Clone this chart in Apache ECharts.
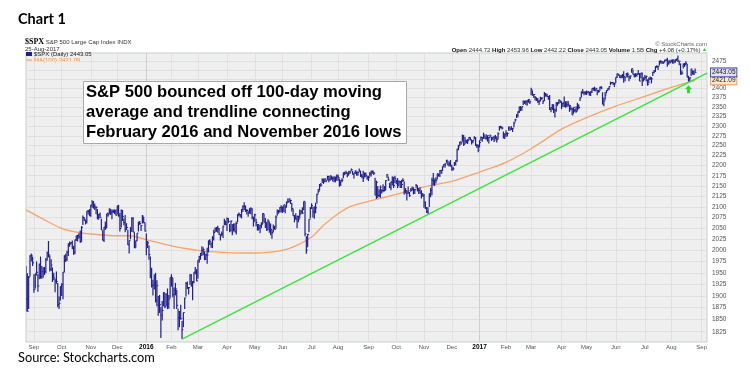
<!DOCTYPE html>
<html><head><meta charset="utf-8">
<script src="https://cdn.jsdelivr.net/npm/echarts@6/dist/echarts.min.js"></script>
<style>html,body{margin:0;padding:0;background:#fff}#c{width:750px;height:382px}</style>
</head><body><div id="c"></div>
<script>
// ---------- DATA ----------
// NYSE holidays in range (used to build the trading-day category axis)
const holidays = ['2015-09-07','2015-11-26','2015-12-25','2016-01-01','2016-01-18','2016-02-15','2016-03-25','2016-05-30','2016-07-04','2016-09-05','2016-11-24','2016-12-26','2017-01-02','2017-01-16','2017-02-20','2017-04-14','2017-05-29','2017-07-04','2017-09-04'];
const axisStart = '2015-08-24', axisEnd = '2017-09-08';

// Daily closes (Aug 24 2015 .. Dec 31 2015), one row per month
const close2015 = [
1893.2,1867.6,1940.5,1987.7,1988.9,1972.2,
1913.9,1948.9,1951.1,1921.2,1969.4,1942.0,1952.3,1961.1,1953.0,1978.1,1995.3,1990.2,1958.1,1967.0,1942.7,1938.8,1932.2,1931.3,1881.8,1884.1,1920.0,
1923.8,1951.4,1987.1,1979.9,1995.8,2013.4,2014.9,2017.5,2003.7,1994.2,2023.9,2033.1,2033.7,2030.8,2018.9,2052.5,2075.2,2071.2,2065.9,2090.4,2089.4,2079.4,
2104.1,2109.8,2102.3,2099.9,2099.2,2078.6,2081.7,2075.0,2046.0,2023.0,2053.2,2050.4,2083.6,2081.2,2089.2,2086.6,2089.1,2088.9,2090.1,2080.4,
2102.6,2079.5,2049.6,2091.7,2077.1,2063.6,2047.6,2052.2,2012.4,2021.9,2043.4,2073.1,2041.9,2005.6,2021.2,2039.0,2064.3,2061.0,2056.5,2078.4,2063.4,2043.9];
const high2015 = [
1965,1949,1943,1989,1993,1986,
1947,1948,1975,1947,1970,1986,1965,1961,1963,1983,1997,2021,1989,1980,1962,1950,1937,1953,1928,1899,1921,
1927,1952,1989,1992,1999,2016,2020,2019,2022,2010,2024,2033,2035,2039,2045,2055,2080,2076,2070,2090,2093,2095,
2105,2116,2114,2108,2101,2095,2084,2087,2072,2045,2053,2066,2084,2087,2097,2096,2094,2094,2094,2094,
2103,2105,2086,2094,2093,2073,2081,2062,2047,2022,2053,2076,2076,2041,2022,2039,2065,2067,2058,2081,2077,2063];
const low2015 = [
1867,1867,1872,1942,1975,1965,
1907,1916,1944,1909,1936,1937,1937,1939,1945,1949,1977,1984,1953,1954,1930,1934,1908,1926,1876,1872,1890,
1900,1893,1951,1974,1976,1987,2008,2013,2003,1990,1991,2021,2020,2026,2017,2019,2058,2067,2059,2061,2082,2079,
2077,2098,2096,2093,2083,2071,2070,2074,2046,2022,2019,2046,2051,2077,2083,2081,2071,2086,2083,2080,
2082,2077,2043,2052,2067,2057,2041,2046,2012,1993,2025,2043,2041,2005,2006,2021,2043,2058,2044,2061,2062,2043];

const close2016 = [
2012.7,2016.7,1990.3,1943.1,1922.0,1923.7,1938.7,1890.3,1921.8,1880.3,1881.3,1859.3,1869.0,1906.9,1877.1,1903.6,1883.0,1893.4,1940.2,
1939.4,1903.0,1912.5,1915.4,1880.1,1853.4,1852.2,1851.9,1829.1,1864.8,1895.6,1926.8,1917.8,1917.8,1945.5,1921.3,1929.8,1951.7,1948.1,1932.2,
1978.4,1986.4,1993.4,2000.0,2001.8,1979.3,1989.3,1989.6,2022.2,2019.6,2015.9,2027.2,2040.6,2049.6,2051.6,2049.8,2036.7,2035.9,2037.1,2055.0,2064.0,2059.7,
2072.8,2066.1,2045.2,2066.7,2041.9,2047.6,2042.0,2061.7,2082.4,2082.8,2080.7,2094.3,2100.8,2102.4,2091.5,2091.6,2087.8,2091.7,2095.2,2075.8,2065.3,
2081.4,2063.4,2051.1,2050.6,2057.1,2058.7,2084.4,2064.5,2064.1,2046.6,2066.7,2047.2,2047.6,2040.0,2052.3,2048.0,2076.1,2090.5,2090.1,2099.1,2097.0,
2099.3,2105.3,2099.1,2109.4,2112.1,2119.1,2115.5,2096.1,2079.1,2075.3,2071.5,2078.0,2071.2,2083.3,2088.9,2085.5,2113.3,2037.4,2000.5,2036.1,2070.8,2098.9,
2103.0,2088.6,2099.7,2097.9,2129.9,2137.2,2152.1,2152.4,2163.8,2161.7,2166.9,2163.8,2173.0,2165.2,2175.0,2168.5,2169.2,2166.6,2170.1,2173.6,
2170.8,2157.0,2163.8,2164.3,2182.9,2180.9,2181.7,2175.5,2185.8,2184.1,2190.2,2178.2,2182.2,2187.0,2183.9,2182.6,2186.9,2175.4,2172.5,2169.0,2180.4,2176.1,2171.0,
2170.9,2180.0,2186.5,2186.2,2181.3,2128.0,2159.0,2127.0,2125.8,2147.3,2139.2,2139.1,2139.8,2163.1,2177.2,2164.7,2146.1,2159.9,2171.4,2151.1,2168.3,
2161.2,2150.5,2159.7,2160.8,2153.7,2163.7,2136.7,2139.2,2132.6,2133.0,2126.5,2139.6,2144.3,2141.3,2141.2,2151.3,2143.2,2139.4,2133.0,2126.4,2126.2,
2111.7,2097.9,2088.7,2085.2,2131.5,2139.6,2163.3,2167.5,2164.5,2164.2,2180.4,2176.9,2187.1,2181.9,2198.2,2202.9,2204.7,2213.4,2201.7,2204.7,2198.8,
2191.1,2192.0,2204.7,2212.2,2241.4,2246.2,2259.5,2257.0,2271.7,2253.3,2262.0,2258.1,2262.5,2270.8,2265.2,2261.0,2263.8,2268.9,2249.9,2249.3,2238.8];
const high2016 = [
2038,2021,2011,1986,1961,1935,1947,1950,1934,1900,1902,1876,1889,1908,1906,1905,1916,1902,1940,
1947,1939,1918,1928,1913,1873,1868,1881,1847,1865,1896,1930,1931,1919,1947,1947,1932,1951,1963,1958,
1978,1987,1994,2009,2007,1998,1992,2006,2022,2025,2017,2032,2047,2052,2053,2056,2051,2036,2043,2056,2072,2068,
2075,2074,2060,2068,2060,2061,2062,2066,2083,2087,2083,2095,2104,2111,2103,2095,2089,2097,2099,2097,2077,
2084,2072,2060,2060,2058,2064,2085,2084,2074,2064,2071,2066,2061,2046,2059,2056,2080,2094,2093,2100,2104,
2101,2105,2104,2113,2120,2120,2117,2110,2096,2081,2085,2079,2079,2094,2093,2099,2113,2113,2032,2037,2071,2099,
2109,2100,2101,2110,2132,2143,2155,2157,2169,2168,2169,2164,2175,2175,2175,2174,2173,2174,2173,2178,
2178,2168,2164,2169,2183,2185,2187,2183,2186,2186,2193,2187,2182,2188,2185,2185,2193,2187,2179,2187,2183,2183,2175,
2175,2184,2187,2187,2185,2170,2163,2150,2142,2151,2142,2154,2150,2164,2179,2173,2158,2161,2173,2172,2175,
2165,2169,2164,2162,2165,2169,2161,2145,2138,2149,2136,2145,2149,2147,2142,2155,2151,2145,2147,2140,2133,
2131,2112,2100,2099,2132,2146,2170,2182,2166,2171,2180,2179,2189,2190,2198,2204,2205,2214,2212,2210,2214,
2202,2197,2209,2213,2242,2252,2260,2260,2278,2277,2272,2265,2267,2272,2271,2264,2264,2274,2272,2254,2253];
const low2016 = [
1989,2005,1979,1938,1918,1901,1914,1886,1878,1858,1864,1812,1848,1878,1874,1878,1872,1873,1895,
1920,1897,1872,1901,1872,1828,1834,1850,1810,1834,1872,1899,1915,1903,1924,1920,1891,1927,1947,1932,
1937,1972,1979,1987,1989,1978,1979,1970,1995,2012,2006,2005,2022,2041,2042,2040,2035,2022,2032,2028,2058,2057,
2044,2062,2041,2043,2034,2044,2041,2036,2064,2078,2075,2073,2088,2093,2088,2082,2077,2084,2083,2071,2054,
2067,2055,2045,2045,2039,2050,2060,2064,2051,2044,2047,2040,2034,2026,2041,2047,2049,2079,2084,2087,2087,
2086,2088,2085,2099,2110,2111,2107,2089,2079,2064,2070,2050,2064,2073,2083,2084,2092,2032,1992,2007,2041,2073,
2095,2075,2072,2085,2108,2132,2139,2148,2157,2155,2159,2159,2165,2159,2163,2165,2161,2159,2159,2163,
2163,2148,2150,2159,2169,2176,2179,2171,2177,2179,2186,2178,2168,2179,2175,2175,2184,2172,2169,2160,2171,2171,2165,
2162,2173,2173,2180,2177,2128,2119,2121,2124,2122,2132,2135,2137,2140,2170,2163,2145,2140,2151,2145,2157,
2154,2145,2151,2145,2145,2160,2129,2132,2115,2132,2124,2136,2139,2130,2131,2146,2137,2131,2132,2120,2125,
2098,2095,2086,2084,2100,2123,2128,2152,2150,2156,2166,2173,2172,2180,2186,2195,2195,2207,2200,2198,2198,
2187,2188,2199,2200,2209,2238,2249,2252,2260,2249,2254,2256,2254,2264,2263,2253,2256,2266,2249,2244,2233];

const close2017 = [
2257.8,2270.8,2269.0,2277.0,2268.9,2268.9,2275.3,2270.4,2274.6,2267.9,2271.9,2263.7,2271.3,2265.2,2280.1,2298.4,2296.7,2294.7,2280.9,2278.9,
2279.6,2280.9,2297.4,2292.6,2293.1,2294.7,2307.9,2316.1,2328.3,2337.6,2349.3,2347.2,2351.2,2365.4,2362.8,2363.8,2367.3,2369.8,2363.6,
2396.0,2381.9,2383.1,2375.3,2368.4,2363.0,2364.9,2372.6,2373.5,2365.5,2385.3,2381.4,2378.3,2373.5,2344.0,2348.5,2346.0,2344.0,2341.6,2358.6,2361.1,2368.1,2362.7,
2358.8,2360.2,2353.0,2357.5,2355.5,2357.2,2353.8,2344.9,2329.0,2349.0,2342.2,2338.2,2355.8,2348.7,2374.2,2388.6,2387.5,2388.8,2384.2,
2388.3,2391.2,2388.1,2389.5,2399.3,2399.4,2396.9,2399.6,2394.4,2390.9,2402.3,2400.7,2357.0,2365.7,2381.7,2394.0,2398.4,2404.4,2415.1,2415.8,2412.9,2411.8,
2430.1,2439.1,2436.1,2429.3,2433.1,2433.8,2431.8,2429.4,2440.4,2437.9,2432.5,2433.2,2453.5,2437.0,2435.6,2434.5,2438.3,2439.1,2419.4,2440.7,2419.7,2423.4,
2429.0,2432.5,2409.8,2425.2,2427.4,2425.5,2443.3,2447.8,2459.3,2459.1,2460.6,2473.8,2473.5,2472.5,2469.9,2477.1,2477.8,2475.4,2472.1,2470.3,
2476.4,2477.6,2472.2,2476.8,2480.9,2474.9,2474.0,2438.2,2441.3,2465.8,2464.6,2468.1,2430.0,2425.6,2428.4,2452.5,2444.0,2439.0,2443.05];
const high2017 = [
2264,2273,2271,2283,2276,2279,2276,2272,2278,2272,2272,2275,2277,2273,2284,2300,2301,2299,2286,2279,
2289,2284,2299,2296,2300,2295,2311,2319,2331,2338,2351,2352,2351,2367,2366,2368,2368,2371,2368,
2401,2394,2384,2379,2375,2374,2369,2377,2376,2368,2390,2387,2385,2379,2382,2349,2358,2357,2344,2363,2363,2370,2368,
2365,2361,2378,2365,2365,2366,2355,2352,2348,2349,2345,2352,2361,2356,2376,2392,2398,2392,2392,
2394,2392,2390,2392,2399,2402,2404,2400,2396,2395,2404,2406,2389,2375,2390,2395,2400,2405,2418,2416,2416,2415,
2430,2440,2439,2436,2436,2439,2446,2430,2441,2443,2434,2434,2453,2451,2440,2441,2441,2450,2441,2442,2443,2430,
2436,2434,2424,2429,2432,2430,2445,2449,2460,2463,2461,2475,2477,2473,2473,2478,2479,2484,2473,2478,
2478,2479,2477,2480,2481,2490,2474,2468,2448,2468,2469,2474,2466,2434,2430,2453,2449,2448,2454];
const low2017 = [
2245,2262,2260,2267,2268,2265,2260,2255,2271,2262,2264,2259,2266,2258,2266,2288,2294,2291,2268,2267,
2272,2273,2288,2288,2290,2285,2297,2311,2321,2322,2334,2339,2340,2355,2358,2355,2353,2361,2358,
2381,2380,2374,2367,2366,2361,2355,2365,2369,2358,2366,2377,2377,2369,2342,2336,2342,2334,2322,2337,2353,2358,2361,
2344,2350,2350,2348,2349,2351,2337,2341,2329,2332,2336,2335,2340,2344,2366,2376,2386,2381,2383,
2382,2386,2380,2379,2387,2393,2392,2392,2381,2388,2393,2397,2357,2352,2369,2386,2393,2396,2408,2412,2409,2403,
2414,2428,2434,2428,2427,2427,2415,2419,2431,2429,2419,2425,2442,2437,2429,2430,2432,2437,2419,2427,2406,2419,
2425,2419,2407,2413,2422,2413,2433,2441,2444,2455,2450,2463,2468,2466,2467,2471,2474,2459,2464,2468,
2472,2467,2468,2470,2475,2472,2463,2437,2437,2454,2458,2463,2430,2418,2417,2433,2437,2436,2442];

// 100-day moving average
const maDates = ['2015-08-24','2015-09-15','2015-10-01','2015-10-15','2015-11-02','2015-12-01','2015-12-15','2016-01-04','2016-02-01','2016-03-01','2016-04-01','2016-05-02','2016-06-01','2016-06-15','2016-07-01','2016-07-15','2016-08-01','2016-08-15','2016-09-01','2016-10-03','2016-11-01','2016-12-01','2017-01-03','2017-02-01','2017-03-01','2017-04-03','2017-05-01','2017-06-01','2017-07-03','2017-08-01','2017-08-25'];
const maValues = [2093,2068,2050,2042,2037,2033,2033,2024,2010,2000,1995,1994,2000,2010,2030,2057,2084,2102,2113,2130,2148,2161,2184,2208,2242,2292,2322,2352,2378,2402,2421.09];

// Trendline connecting Feb 2016 and Nov 2016 lows (extended)
const trendDates = ['2016-02-11','2017-09-08'];
const trendValues = [1810, 2441];

// Price-axis tick labels
const yTicks = [1825,1850,1875,1900,1925,1950,1975,2000,2025,2050,2075,2100,2125,2150,2175,2200,2225,2250,2275,2300,2325,2350,2375,2400,2425,2450,2475];
const yHiddenLabels = [2425,2450];
const yearLines = ['2016-01-04','2017-01-03'];
const monthNames = ['Jan','Feb','Mar','Apr','May','Jun','Jul','Aug','Sep','Oct','Nov','Dec'];

// ---------- BUILD ----------
function tradingDays(start, end) {
  const out = [];
  let t = Date.parse(start + 'T00:00:00Z');
  const e = Date.parse(end + 'T00:00:00Z');
  while (t <= e) {
    const d = new Date(t);
    const wd = d.getUTCDay();
    const s = d.toISOString().slice(0, 10);
    if (wd !== 0 && wd !== 6 && holidays.indexOf(s) < 0) out.push(s);
    t += 86400000;
  }
  return out;
}
const dates = tradingDays(axisStart, axisEnd);
const closes = close2015.concat(close2016, close2017);
const highs = high2015.concat(high2016, high2017);
const lows = low2015.concat(low2016, low2017);
if (dates.indexOf('2017-08-25') !== closes.length - 1 || highs.length !== closes.length || lows.length !== closes.length) {
  throw new Error('length mismatch: dates ' + dates.indexOf('2017-08-25') + ' closes ' + closes.length + ' highs ' + highs.length + ' lows ' + lows.length);
}
const lastClose = closes[closes.length - 1];
const lastMA = maValues[maValues.length - 1];
const ohlc = closes.map((c, i) => [i, lows[i], highs[i], c]);
const isMonthStart = i => i > 0 && dates[i].slice(5, 7) !== dates[i - 1].slice(5, 7);

const priceName = '$SPX (Daily) ' + lastClose.toFixed(2);
const maName = 'MA(100) ' + lastMA.toFixed(2);
const small = 'Liberation Sans';
const clear = 'rgba(0,0,0,0)';

const gridMarks = yTicks.map(v => ({ yAxis: v, label: { show: yHiddenLabels.indexOf(v) < 0 } }))
  .concat(yearLines.map(d => ({ xAxis: d, label: { show: false }, lineStyle: { color: '#cfcfcf' } })))
  .concat([
    { yAxis: lastMA, lineStyle: { color: clear }, label: { show: true, formatter: lastMA.toFixed(2), backgroundColor: '#fde6d4', borderColor: '#f08a3c', borderWidth: 0.8, padding: [1, 1, 0, 1], color: '#222', distance: 4 } },
    { yAxis: lastClose, lineStyle: { color: clear }, label: { show: true, formatter: lastClose.toFixed(2), backgroundColor: '#e2e2f6', borderColor: '#2b2b8f', borderWidth: 0.8, padding: [1, 1, 0, 1], color: '#111', distance: 4 } }
  ]);

const chart = echarts.init(document.getElementById('c'), null, { renderer: 'canvas' });
chart.setOption({
  animation: false,
  backgroundColor: '#ffffff',
  title: [
    { text: 'Chart 1', left: 18, top: 12, padding: 0, textStyle: { fontFamily: 'Lato', fontWeight: 'bold', fontSize: 14.5, color: '#000' } },
    { text: '{s|$SPX} S&P 500 Large Cap Index INDX', left: 25, top: 38, padding: 0, textStyle: { fontFamily: small, fontSize: 6, fontWeight: 'normal', color: '#333', rich: { s: { fontFamily: 'Liberation Serif', fontWeight: 'bold', fontSize: 8, color: '#000' } } } },
    { text: '25-Aug-2017', left: 25, top: 46, padding: 0, textStyle: { fontFamily: small, fontSize: 6, fontWeight: 'normal', color: '#333' } },
    { text: '© StockCharts.com', right: 43, top: 41, padding: 0, textStyle: { fontFamily: small, fontSize: 6, fontWeight: 'normal', color: '#666' } },
    { text: '{b|Open} 2444.72 {b|High} 2453.96 {b|Low} 2442.22 {b|Close} 2443.05 {b|Volume} 1.5B {b|Chg} +4.08 (+0.17%) {g|▲}', right: 43, top: 47, padding: 0,
      textStyle: { fontFamily: small, fontSize: 6, fontWeight: 'normal', color: '#333', rich: { b: { fontWeight: 'bold', fontSize: 6, color: '#111' }, g: { color: '#22cc22', fontSize: 5 } } } },
    { text: 'Source: Stockcharts.com', left: 18, top: 351, padding: 0, textStyle: { fontFamily: 'Lato', fontWeight: 'normal', fontSize: 12.8, color: '#000' } },
    { text: 'S&P 500 bounced off 100-day moving\naverage and trendline connecting\nFebruary 2016 and November 2016 lows', left: 83, top: 81,
      backgroundColor: '#ffffff', borderColor: '#a8a8a8', borderWidth: 1, padding: [2, 5, 2, 3],
      textStyle: { fontFamily: 'Liberation Sans', fontWeight: 'bold', fontSize: 16.6, lineHeight: 19.7, color: '#000' } }
  ],
  legend: {
    left: 26, top: 51, orient: 'vertical', padding: 0, itemGap: 0, itemWidth: 6, itemHeight: 4, selectedMode: false,
    textStyle: { fontFamily: small, fontSize: 6, padding: [0, 0, 0, -3] },
    data: [
      { name: priceName, icon: 'rect', textStyle: { color: '#222' } },
      { name: maName, icon: 'path://M0,4 L10,4 L10,6 L0,6 Z', textStyle: { color: '#f08a3c' } }
    ]
  },
  grid: { left: 26, right: 43, top: 53, bottom: 40, show: true, backgroundColor: '#efefef', borderColor: '#c6cfca', borderWidth: 1, containLabel: false },
  xAxis: {
    type: 'category', data: dates, boundaryGap: false,
    axisLine: { show: false }, axisTick: { show: false },
    axisLabel: {
      interval: (i) => isMonthStart(i), margin: 2, fontFamily: small, fontSize: 6, color: '#555',
      formatter: (v) => { const m = +v.slice(5, 7); return m === 1 ? '{yr|' + v.slice(0, 4) + '}' : monthNames[m - 1]; },
      rich: { yr: { fontWeight: 'bold', color: '#000', fontSize: 6.5, fontFamily: small } }
    },
    splitLine: { show: true, interval: (i) => isMonthStart(i), lineStyle: { color: '#e0e0e0', width: 1 } }
  },
  yAxis: {
    type: 'log', logBase: 10, min: 1804, max: 2497, position: 'right',
    axisLine: { show: false }, axisTick: { show: false }, axisLabel: { show: false }, splitLine: { show: false }
  },
  series: [
    { name: 'grid', type: 'line', data: [], silent: true, z: 1,
      markLine: { silent: true, symbol: ['none', 'none'], animation: false,
        lineStyle: { color: '#e0e0e0', width: 1, type: 'solid' },
        label: { show: true, position: 'end', distance: 5, fontFamily: small, fontSize: 6.5, color: '#555', formatter: (p) => String(p.value) },
        emphasis: { disabled: true },
        data: gridMarks } },
    { name: maName, type: 'line', data: maDates.map((d, i) => [d, maValues[i]]), showSymbol: false, smooth: 0.25, z: 9,
      itemStyle: { color: '#f6a46c' }, lineStyle: { color: '#f6a46c', width: 1.3 } },
    { name: priceName, type: 'custom', data: ohlc, z: 10, clip: true,
      encode: { x: 0, y: [1, 2, 3] }, itemStyle: { color: '#1f1f8c' },
      renderItem: (params, api) => {
        const x = api.value(0);
        const pLo = api.coord([x, api.value(1)]);
        const pHi = api.coord([x, api.value(2)]);
        const pC = api.coord([x, api.value(3)]);
        return { type: 'group', children: [
          { type: 'line', shape: { x1: pLo[0], y1: pLo[1], x2: pHi[0], y2: pHi[1] }, style: { stroke: '#1f1f8c', lineWidth: 1.2 } },
          { type: 'line', shape: { x1: pC[0], y1: pC[1], x2: pC[0] + 1.4, y2: pC[1] }, style: { stroke: '#1f1f8c', lineWidth: 1 } }
        ] };
      } },
    { name: 'trend', type: 'line', data: trendDates.map((d, i) => [d, trendValues[i]]), showSymbol: false, z: 11,
      lineStyle: { color: '#3ee23e', width: 1.5 },
      markPoint: { silent: true, animation: false,
        data: [{ coord: ['2017-08-18', 2397], symbol: 'path://M3,10 L3,5 L0,5 L5,0 L10,5 L7,5 L7,10 Z', symbolSize: [7, 8], itemStyle: { color: '#22dd22' }, label: { show: false } }] } }
  ]
});
</script></body></html>
